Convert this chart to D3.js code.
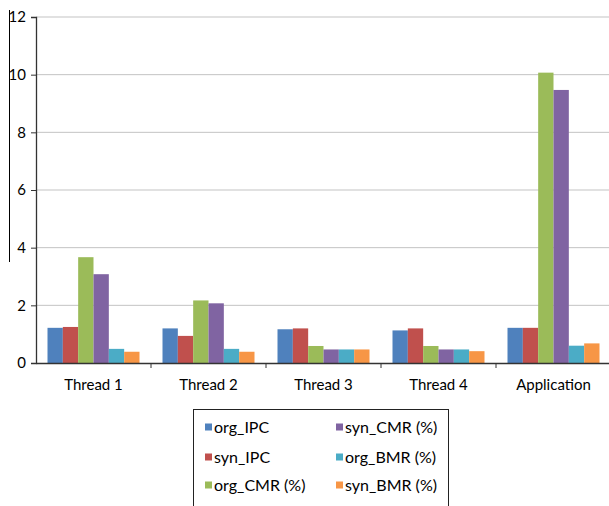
<!DOCTYPE html>
<html>
<head>
<meta charset="utf-8">
<script src="https://cdn.jsdelivr.net/npm/d3@7"></script>
<style>
  html, body { margin: 0; padding: 0; background: #fff; }
  svg { display: block; }
  text { font-family: Lato, "Open Sans", "Liberation Sans", sans-serif; fill: #000; }
</style>
</head>
<body>
<svg id="chart" width="609" height="506"></svg>
<script>
// Categories and series
const categories = ["Thread 1", "Thread 2", "Thread 3", "Thread 4", "Application"];
const seriesNames = ["org_IPC", "syn_IPC", "org_CMR (%)", "syn_CMR (%)", "org_BMR (%)", "syn_BMR (%)"];
const seriesColors = ["#4f81bd", "#c0504d", "#9bbb59", "#8064a2", "#4bacc6", "#f79646"];

const org_IPC  = [1.22, 1.20, 1.17, 1.13, 1.22];
const syn_IPC  = [1.25, 0.94, 1.20, 1.20, 1.22];
const org_CMR  = [3.67, 2.17, 0.59, 0.59, 10.07];
const syn_CMR  = [3.08, 2.07, 0.47, 0.47, 9.47];
const org_BMR  = [0.49, 0.49, 0.47, 0.47, 0.60];
const syn_BMR  = [0.39, 0.39, 0.47, 0.41, 0.68];

const yTicks = [0, 2, 4, 6, 8, 10, 12];

const seriesValues = [org_IPC, syn_IPC, org_CMR, syn_CMR, org_BMR, syn_BMR];

const svg = d3.select("#chart");
const plot = { left: 36, right: 611, top: 17, bottom: 363 };

const x0 = d3.scaleBand().domain(categories).range([plot.left, plot.right]).paddingInner(0).paddingOuter(0);
const x1 = d3.scaleBand().domain(seriesNames).range([0, x0.bandwidth()]).paddingInner(0).paddingOuter(0.75);
const y = d3.scaleLinear().domain([0, 12]).range([plot.bottom, plot.top]);

// Horizontal gridlines
svg.append("g").selectAll("line").data(yTicks.filter(d => d > 0)).join("line")
  .attr("x1", plot.left).attr("x2", plot.right)
  .attr("y1", d => y(d)).attr("y2", d => y(d))
  .attr("stroke", "#c3c3c3").attr("stroke-width", 1);

// Bars
const groups = svg.append("g").selectAll("g").data(categories).join("g")
  .attr("transform", d => `translate(${x0(d)},0)`);
groups.selectAll("rect")
  .data((c, i) => seriesNames.map((s, j) => ({ s, j, v: seriesValues[j][i] })))
  .join("rect")
  .attr("x", d => x1(d.s))
  .attr("width", x1.bandwidth())
  .attr("y", d => y(d.v))
  .attr("height", d => y(0) - y(d.v))
  .attr("fill", d => seriesColors[d.j]);

// Y axis
const yAxis = d3.axisLeft(y).tickValues(yTicks).tickSize(5).tickPadding(5).tickFormat(d3.format("d"));
const gy = svg.append("g").attr("transform", `translate(${plot.left},0)`).call(yAxis);
gy.select(".domain").attr("stroke", "#333").attr("stroke-width", 1.3);
gy.selectAll(".tick line").attr("stroke", "#333");
gy.selectAll(".tick text").style("font-size", "15px").attr("fill", "#000");

// X axis
const xAxis = d3.axisBottom(x0).tickSize(0).tickPadding(16);
const gx = svg.append("g").attr("transform", `translate(0,${plot.bottom})`).call(xAxis);
gx.select(".domain").attr("stroke", "#333").attr("stroke-width", 1.5);
gx.selectAll(".tick text").style("font-size", "15px").attr("fill", "#000");
// Category separators below the axis
svg.append("g").selectAll("line").data(categories.slice(1)).join("line")
  .attr("x1", d => x0(d)).attr("x2", d => x0(d))
  .attr("y1", plot.bottom).attr("y2", plot.bottom + 5)
  .attr("stroke", "#333");

// Stray vertical rule at the left edge
svg.append("line").attr("x1", 9.5).attr("x2", 9.5).attr("y1", 10).attr("y2", 262)
  .attr("stroke", "#000").attr("stroke-width", 1);

// Legend
const legend = svg.append("g");
legend.append("rect").attr("x", 193.5).attr("y", 409.5).attr("width", 255).attr("height", 100)
  .attr("fill", "#fff").attr("stroke", "#222").attr("stroke-width", 1);
const legendOrder = [0, 3, 1, 4, 2, 5];
const colX = [205, 336];
const rowY = [427, 457, 485];
legendOrder.forEach((si, k) => {
  const col = k % 2, row = Math.floor(k / 2);
  const g = legend.append("g").attr("transform", `translate(${colX[col]},${rowY[row]})`);
  g.append("rect").attr("x", 0).attr("y", -3.5).attr("width", 7).attr("height", 7).attr("fill", seriesColors[si]);
  g.append("text").attr("x", 9).attr("y", 0).attr("dy", "0.35em").style("font-size", "16px").text(seriesNames[si]);
});
</script>
</body>
</html>
